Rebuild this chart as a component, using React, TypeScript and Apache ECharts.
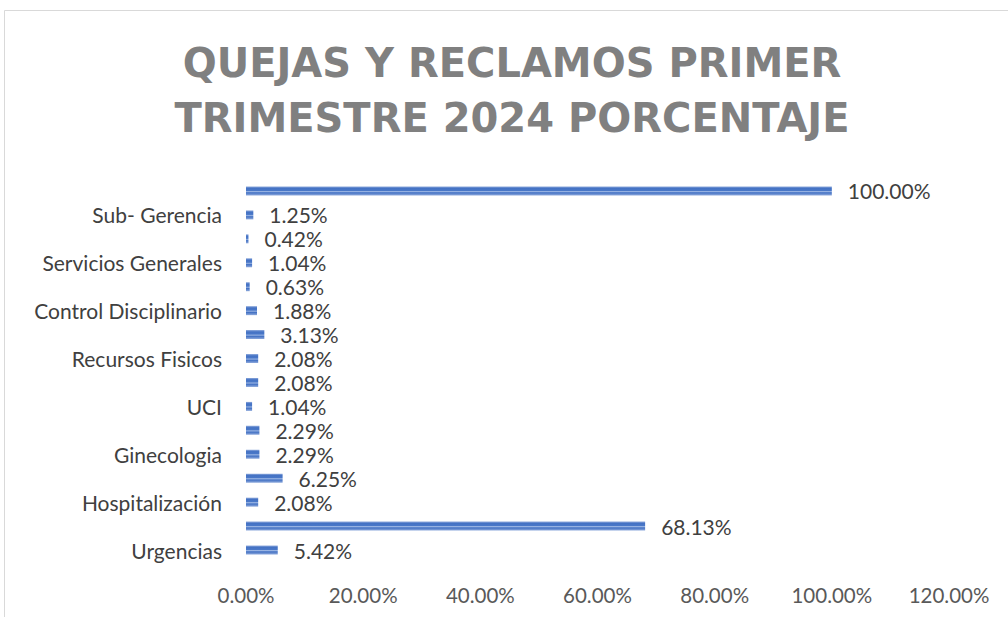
import React, { useEffect, useRef } from "react";
import * as echarts from "echarts";

const titleText = "QUEJAS Y RECLAMOS PRIMER\nTRIMESTRE 2024 PORCENTAJE";
const categories = [
  "Urgencias", "", "Hospitalización", "", "Ginecologia", "", "UCI", "",
  "Recursos Fisicos", "", "Control Disciplinario", "", "Servicios Generales", "",
  "Sub- Gerencia", "",
];
const values = [
  5.42, 68.13, 2.08, 6.25, 2.29, 2.29, 1.04, 2.08,
  2.08, 3.13, 1.88, 0.63, 1.04, 0.42, 1.25, 100.0,
];
const xMin = 0;
const xMax = 120;
const xInterval = 20;

export default function App() {
  const ref = useRef<HTMLDivElement>(null);
  useEffect(() => {
    if (!ref.current) return;
    const chart = echarts.init(ref.current, null, { renderer: "svg" });
    const font = "Lato, 'Open Sans', sans-serif";
    chart.setOption({
      animation: false,
      backgroundColor: "#ffffff",
      graphic: [
        {
          type: "rect",
          shape: { x: 4.5, y: 10.5, width: 1020, height: 630 },
          style: { fill: "none", stroke: "#d9d9d9", lineWidth: 1 },
          silent: true,
        },
        {
          type: "text",
          x: 512,
          y: 90,
          style: {
            text: titleText,
            fill: "#808080",
            fontFamily: "DejaVu Sans",
            fontWeight: "bold",
            fontSize: 40,
            lineHeight: 55,
            align: "center",
            verticalAlign: "middle",
          },
        },
      ],
      grid: { left: 246, right: 59, top: 179, bottom: 55, containLabel: false },
      xAxis: {
        type: "value",
        min: xMin,
        max: xMax,
        interval: xInterval,
        axisLine: { show: false },
        axisTick: { show: false },
        splitLine: { show: false },
        axisLabel: {
          formatter: (v: number) => v.toFixed(2) + "%",
          color: "#595959",
          fontSize: 20.5,
          fontFamily: font,
          margin: 22,
        },
      },
      yAxis: {
        type: "category",
        data: categories,
        axisLine: { show: false },
        axisTick: { show: false },
        axisLabel: {
          interval: 0,
          color: "#404040",
          fontSize: 21,
          fontFamily: font,
          margin: 24,
        },
      },
      series: [
        {
          type: "bar",
          data: values,
          barWidth: 9,
          itemStyle: {
            color: new echarts.graphic.LinearGradient(0, 0, 0, 1, [
              { offset: 0, color: "#8faadc" },
              { offset: 0.2, color: "#4472c4" },
              { offset: 0.45, color: "#4a78c8" },
              { offset: 0.55, color: "#9ab5e4" },
              { offset: 0.7, color: "#4472c4" },
              { offset: 1, color: "#8faadc" },
            ]),
          },
          label: {
            show: true,
            position: "right",
            distance: 16,
            formatter: (p: any) => Number(p.value).toFixed(2) + "%",
            color: "#404040",
            fontSize: 21,
            fontFamily: font,
          },
        },
      ],
    });
    return () => chart.dispose();
  }, []);
  return (
    <div
      ref={ref}
      style={{ position: "fixed", left: 0, top: 0, width: 1008, height: 617 }}
    />
  );
}
